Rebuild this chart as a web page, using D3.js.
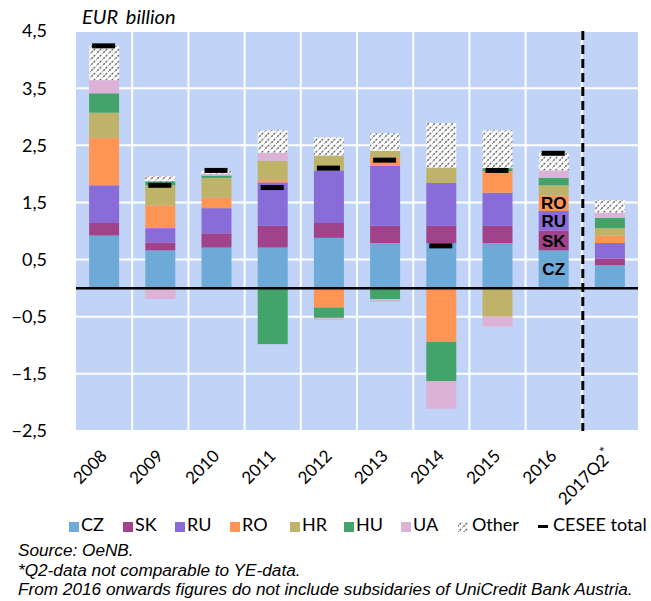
<!DOCTYPE html>
<html>
<head>
<meta charset="utf-8">
<script src="https://cdn.jsdelivr.net/npm/d3@7"></script>
<style>
  body { margin: 0; background: #fff; }
  svg { display: block; }
</style>
</head>
<body>
<svg id="chart"></svg>
<script>
const categories = ['2008', '2009', '2010', '2011', '2012', '2013', '2014', '2015', '2016', '2017Q2'];
const keys = ['CZ', 'SK', 'RU', 'RO', 'HR', 'HU', 'UA', 'Other'];

const cz    = [0.92, 0.66, 0.71, 0.71, 0.88, 0.79, 0.79, 0.79, 0.66, 0.40];
const sk    = [0.22, 0.14, 0.25, 0.38, 0.26, 0.30, 0.30, 0.30, 0.35, 0.12];
const ru    = [0.66, 0.25, 0.44, 0.76, 0.92, 1.05, 0.75, 0.58, 0.34, 0.27];
const ro    = [0.83, 0.40, 0.18, 0.04, -0.34, 0.14, -0.94, 0.38, 0.27, 0.13];
const hr    = [0.44, 0.35, 0.35, 0.34, 0.26, 0.12, 0.27, -0.50, 0.18, 0.13];
const hu    = [0.34, 0.07, 0.04, -0.98, -0.18, -0.19, -0.69, 0.05, 0.13, 0.18];
const ua    = [0.23, -0.19, 0.03, 0.14, -0.04, -0.05, -0.48, -0.17, 0.13, 0.09];
const other = [0.60, 0.09, 0.05, 0.39, 0.32, 0.31, 0.78, 0.66, 0.31, 0.22];
const total = [4.24, 1.80, 2.06, 1.76, 2.10, 2.24, 0.74, 2.06, 2.36, null];

const yTicks = [4.5, 3.5, 2.5, 1.5, 0.5, -0.5, -1.5, -2.5];
const notes = [
  'Source: OeNB.',
  '*Q2-data not comparable to YE-data.',
  'From 2016 onwards figures do not include subsidaries of UniCredit Bank Austria.'
];
// labels written inside the 2016 bar
const barLabels = ['CZ', 'SK', 'RU', 'RO'];

const colors = {
  CZ: '#6eaad8', SK: '#a0438a', RU: '#896cd8', RO: '#ff9554',
  HR: '#bfb36a', HU: '#42a46a', UA: '#dcb2d6', Other: 'url(#hatch)'
};

const series = { CZ: cz, SK: sk, RU: ru, RO: ro, HR: hr, HU: hu, UA: ua, Other: other };
const rows = categories.map((c, i) => {
  const r = { cat: c, total: total[i] };
  keys.forEach(k => { r[k] = series[k][i]; });
  return r;
});

const width = 651, height = 601;
const plotL = 76, plotR = 638, plotT = 31, plotB = 431;

const svg = d3.select('#chart').attr('width', width).attr('height', height);

const defs = svg.append('defs');
const pat = defs.append('pattern')
  .attr('id', 'hatch')
  .attr('patternUnits', 'userSpaceOnUse')
  .attr('width', 6).attr('height', 6);
pat.append('rect').attr('width', 6).attr('height', 6).attr('fill', '#fff');
pat.append('path')
  .attr('d', 'M-1,7 L7,-1 M-4,4 L4,-4 M2,10 L10,2')
  .attr('stroke', '#6a6a6a')
  .attr('stroke-width', 1.4)
  .attr('stroke-dasharray', '2.2,1');

const x = d3.scaleBand()
  .domain(categories)
  .range([plotL, plotR])
  .paddingInner(0.466)
  .paddingOuter(0.233);

const y = d3.scaleLinear()
  .domain([-2.5, 4.5])
  .range([plotB, plotT]);

const fmt = d3.formatLocale({ decimal: ',', thousands: '.', grouping: [3], currency: ['', ''] }).format('.1f');

// plot background
svg.append('rect')
  .attr('x', plotL).attr('y', plotT)
  .attr('width', plotR - plotL).attr('height', plotB - plotT)
  .attr('fill', '#c1d4f8');

// grid
const step = x.step();
svg.append('g')
  .selectAll('line')
  .data(d3.range(1, categories.length))
  .enter().append('line')
    .attr('x1', i => plotL + i * step).attr('x2', i => plotL + i * step)
    .attr('y1', plotT).attr('y2', plotB)
    .attr('stroke', '#fff').attr('stroke-width', 2);

svg.append('g')
  .selectAll('line')
  .data(yTicks)
  .enter().append('line')
    .attr('x1', plotL).attr('x2', plotR)
    .attr('y1', d => y(d)).attr('y2', d => y(d))
    .attr('stroke', '#fff').attr('stroke-width', 2);

// stacked bars
const stack = d3.stack().keys(keys).offset(d3.stackOffsetDiverging);
const layers = stack(rows);

svg.append('g')
  .selectAll('g')
  .data(layers)
  .enter().append('g')
    .attr('fill', d => colors[d.key])
  .selectAll('rect')
  .data(d => d)
  .enter().append('rect')
    .attr('x', d => x(d.data.cat))
    .attr('width', x.bandwidth())
    .attr('y', d => y(Math.max(d[0], d[1])))
    .attr('height', d => Math.abs(y(d[0]) - y(d[1])));

// zero line
svg.append('line')
  .attr('x1', plotL).attr('x2', plotR)
  .attr('y1', y(0)).attr('y2', y(0))
  .attr('stroke', '#000').attr('stroke-width', 2.5);

// dashed separator before 2017Q2
const sepX = plotL + (categories.length - 1) * step + 1;
svg.append('line')
  .attr('x1', sepX).attr('x2', sepX)
  .attr('y1', plotT).attr('y2', plotB)
  .attr('stroke', '#000').attr('stroke-width', 3)
  .attr('stroke-dasharray', '9,5');

// CESEE total markers
svg.append('g')
  .selectAll('rect')
  .data(rows.filter(d => d.total !== null))
  .enter().append('rect')
    .attr('x', d => x(d.cat) + x.bandwidth() / 2 - 12)
    .attr('y', d => y(d.total) - 2.5)
    .attr('width', 23).attr('height', 5)
    .attr('fill', '#000');

// labels in 2016 bar
const l2016 = layers.filter(l => barLabels.includes(l.key))
  .map(l => ({ key: l.key, seg: l[categories.indexOf('2016')] }));
svg.append('g')
  .selectAll('text')
  .data(l2016)
  .enter().append('text')
    .attr('x', d => x('2016') + x.bandwidth() / 2)
    .attr('y', d => y((d.seg[0] + d.seg[1]) / 2))
    .attr('dy', '0.36em')
    .attr('text-anchor', 'middle')
    .attr('font-family', 'Liberation Sans, Arial, sans-serif')
    .attr('font-weight', 'bold')
    .attr('font-size', 17)
    .text(d => d.key);

// y labels
svg.append('g')
  .selectAll('text')
  .data(yTicks)
  .enter().append('text')
    .attr('x', 47)
    .attr('y', d => y(d))
    .attr('dy', '0.36em')
    .attr('text-anchor', 'end')
    .attr('font-family', 'Lato, sans-serif')
    .attr('font-size', 18)
    .text(d => fmt(d));

svg.append('text')
  .attr('x', 82).attr('y', 24)
  .attr('font-family', 'Lato, sans-serif')
  .attr('font-style', 'italic')
  .attr('font-size', 20)
  .attr('word-spacing', 3)
  .text('EUR billion');

// x labels
const xl = svg.append('g')
  .selectAll('text')
  .data(categories)
  .enter().append('text')
    .attr('transform', d => `translate(${x(d) + x.bandwidth() / 2 + 4}, 457) rotate(-45)`)
    .attr('text-anchor', 'end')
    .attr('font-family', 'Lato, sans-serif')
    .attr('font-size', 17)
    .text(d => d);
xl.filter(d => d === '2017Q2')
  .append('tspan')
    .attr('dy', -6)
    .attr('font-size', 14)
    .text('*');

// legend
const legendX = { CZ: 69, SK: 123, RU: 175, RO: 230, HR: 290, HU: 344, UA: 401, Other: 458 };
const legend = svg.append('g').attr('font-family', 'Lato, sans-serif').attr('font-size', 18);
keys.forEach(k => {
  legend.append('rect')
    .attr('x', legendX[k]).attr('y', 522)
    .attr('width', 10).attr('height', 10)
    .attr('fill', colors[k]);
  legend.append('text')
    .attr('x', legendX[k] + (k === 'Other' ? 14 : 12))
    .attr('y', 531)
    .text(k);
});
legend.append('rect')
  .attr('x', 538).attr('y', 525).attr('width', 10).attr('height', 3).attr('fill', '#000');
legend.append('text').attr('x', 553).attr('y', 531).text('CESEE total');

// notes
svg.append('g')
  .attr('font-family', 'Liberation Sans, Arial, sans-serif')
  .attr('font-style', 'italic')
  .attr('font-size', 17.2)
  .selectAll('text')
  .data(notes)
  .enter().append('text')
    .attr('x', 18)
    .attr('y', (d, i) => 556 + i * 19.5)
    .text(d => d);
</script>
</body>
</html>
